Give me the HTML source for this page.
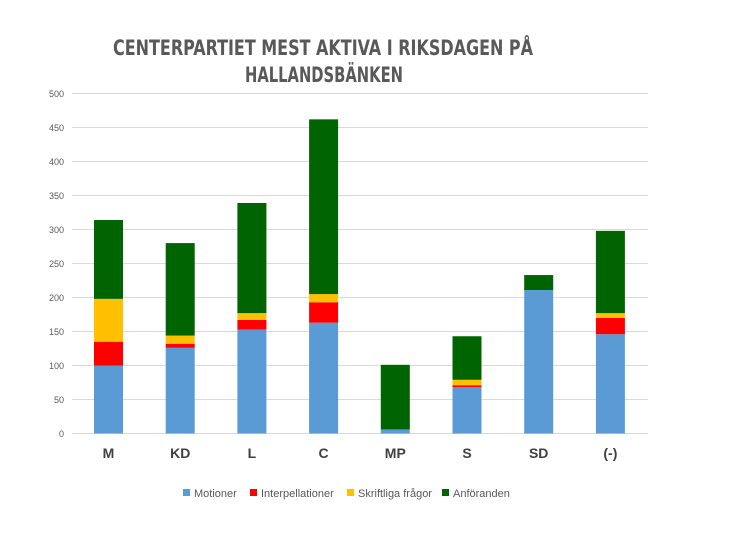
<!DOCTYPE html>
<html><head><meta charset="utf-8"><style>
html,body{margin:0;padding:0;background:#fff;}
</style></head><body>
<svg width="740" height="555" xmlns="http://www.w3.org/2000/svg" font-family="Liberation Sans, sans-serif">
<rect width="740" height="555" fill="#fff"/>
<g font-family="DejaVu Sans Condensed, Liberation Sans Narrow, sans-serif" font-weight="bold" font-size="21" fill="#595959" text-anchor="middle">
<text x="323" y="55" textLength="420" lengthAdjust="spacingAndGlyphs">CENTERPARTIET MEST AKTIVA I RIKSDAGEN PÅ</text>
<text x="324" y="82" textLength="158" lengthAdjust="spacingAndGlyphs">HALLANDSBÄNKEN</text>
</g>
<g stroke="#d9d9d9" stroke-width="1">
<line x1="72" x2="648" y1="93.5" y2="93.5"/><line x1="72" x2="648" y1="127.5" y2="127.5"/>
<line x1="72" x2="648" y1="161.5" y2="161.5"/><line x1="72" x2="648" y1="195.5" y2="195.5"/>
<line x1="72" x2="648" y1="229.5" y2="229.5"/><line x1="72" x2="648" y1="263.5" y2="263.5"/>
<line x1="72" x2="648" y1="297.5" y2="297.5"/><line x1="72" x2="648" y1="331.5" y2="331.5"/>
<line x1="72" x2="648" y1="365.5" y2="365.5"/><line x1="72" x2="648" y1="399.5" y2="399.5"/>
<line x1="72" x2="648" y1="433.5" y2="433.5"/>
</g>
<g font-size="9" fill="#595959" text-anchor="end">
<text x="64" y="97">500</text><text x="64" y="131">450</text><text x="64" y="165">400</text>
<text x="64" y="199">350</text><text x="64" y="233">300</text><text x="64" y="267">250</text>
<text x="64" y="301">200</text><text x="64" y="335">150</text><text x="64" y="369">100</text>
<text x="64" y="403">50</text><text x="64" y="437">0</text>
</g>
<g id="bars"></g>
<g font-size="14" font-weight="bold" fill="#404040" text-anchor="middle" id="labels"></g>
<g font-size="11" fill="#595959">
<rect x="183" y="489" width="7" height="7" fill="#5b9bd5"/><text x="194" y="497">Motioner</text>
<rect x="250" y="489" width="7" height="7" fill="#ff0000"/><text x="261" y="497">Interpellationer</text>
<rect x="347" y="489" width="7" height="7" fill="#ffc000"/><text x="358" y="497">Skriftliga frågor</text>
<rect x="442" y="489" width="7" height="7" fill="#006400"/><text x="453" y="497">Anföranden</text>
</g>
<script>
var d=[["M",100,135,198,314],["KD",126,132,144,280],["L",153,167,177,339],["C",163,193,205,462],["MP",6,6,6,101],["S",68,71,79,143],["SD",211,211,211,233],["(-)",146,170,177,298]];
var cols=["#5b9bd5","#ff0000","#ffc000","#006400"];
var ns="http://www.w3.org/2000/svg",b=document.getElementById("bars"),l=document.getElementById("labels");
function y(v){return 433.5-v*0.68;}
d.forEach(function(r,i){var cx=108.5+71.7*i,prev=0;
for(var k=0;k<4;k++){var v=r[k+1];if(v>prev){var e=document.createElementNS(ns,"rect");e.setAttribute("x",cx-14.5);e.setAttribute("width",29);e.setAttribute("y",y(v));e.setAttribute("height",y(prev)-y(v));e.setAttribute("fill",cols[k]);b.appendChild(e);}prev=v;}
var t=document.createElementNS(ns,"text");t.setAttribute("x",cx);t.setAttribute("y",458);t.textContent=r[0];l.appendChild(t);});
</script>
</svg>
</body></html>
